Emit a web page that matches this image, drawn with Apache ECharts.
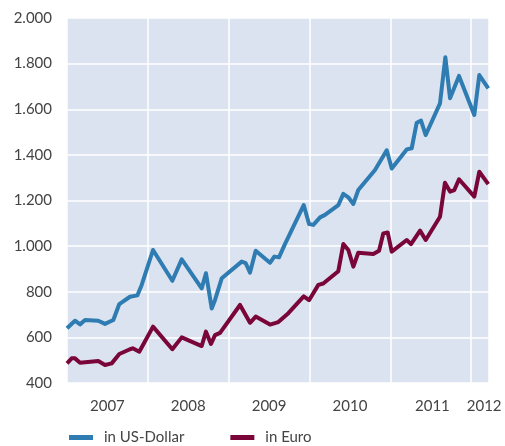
<!DOCTYPE html>
<html>
<head>
<meta charset="utf-8">
<script src="https://cdn.jsdelivr.net/npm/echarts@6/dist/echarts.min.js"></script>
<style>html,body{margin:0;padding:0;background:#fff}#c{width:505px;height:446px}</style>
</head>
<body>
<div id="c"></div>
<script>
// time in decimal years
const usdTimes = [2007.0,2007.099,2007.161,2007.223,2007.387,2007.470,2007.573,2007.647,2007.779,2007.870,2007.924,2008.064,2008.303,2008.419,2008.666,2008.719,2008.790,2008.831,2008.914,2009.161,2009.211,2009.264,2009.334,2009.511,2009.564,2009.622,2009.696,2009.928,2009.994,2010.047,2010.130,2010.191,2010.356,2010.418,2010.480,2010.542,2010.603,2010.810,2010.955,2011.017,2011.202,2011.264,2011.326,2011.379,2011.437,2011.614,2011.680,2011.738,2011.849,2012.038,2012.100,2012.211];
const usdValues = [640,673,657,676,673,659,676,746,778,784,830,983,848,942,815,881,727,764,859,932,925,884,980,927,954,951,1009,1180,1097,1093,1126,1137,1180,1229,1214,1185,1246,1334,1420,1340,1424,1429,1541,1550,1487,1626,1828,1648,1746,1575,1750,1692];
const eurTimes = [2007.0,2007.058,2007.099,2007.161,2007.387,2007.470,2007.553,2007.647,2007.779,2007.813,2007.894,2007.952,2008.064,2008.303,2008.419,2008.666,2008.719,2008.781,2008.831,2008.893,2009.140,2009.264,2009.334,2009.511,2009.614,2009.738,2009.928,2009.994,2010.109,2010.170,2010.356,2010.418,2010.480,2010.542,2010.603,2010.789,2010.860,2010.913,2010.967,2011.017,2011.202,2011.255,2011.367,2011.437,2011.614,2011.675,2011.738,2011.791,2011.849,2012.038,2012.100,2012.211];
const eurValues = [486,508,508,489,496,479,486,527,548,552,537,574,647,548,600,562,625,571,610,620,742,664,691,656,667,706,780,763,830,836,890,1009,983,910,971,966,980,1056,1060,976,1027,1009,1068,1027,1129,1278,1239,1246,1293,1217,1326,1272];
const yearLabelPositions = [2007.5,2008.5,2009.5,2010.5,2011.52,2012.16];
const seriesNames = ['in US-Dollar','in Euro'];

const zip = (a,b) => a.map((t,i)=>[t,b[i]]);
const fmt = v => { const s = String(Math.round(v)); return s.length>3 ? s.slice(0,-3)+'.'+s.slice(-3) : s; };
const font = 'Lato, "Open Sans", sans-serif';

const chart = echarts.init(document.getElementById('c'), null, {renderer:'canvas'});
chart.setOption({
  animation:false,
  backgroundColor:'#ffffff',
  grid:{left:67, right:16, top:18, bottom:63, show:true, backgroundColor:'#dae3ef', borderWidth:0, containLabel:false},
  legend:{
    left:64, top:425, itemWidth:24, itemHeight:5, itemGap:46, icon:'rect',
    textStyle:{fontFamily:font, fontSize:15, color:'#444', padding:[0,0,0,6]},
    data:seriesNames
  },
  xAxis:{
    type:'value', min:2007, max:2012.22, interval:1,
    axisLine:{show:false}, axisTick:{show:false},
    splitLine:{show:true, lineStyle:{color:'#ffffff', width:1.5}},
    axisLabel:{customValues:yearLabelPositions, formatter:v=>String(Math.floor(v)), margin:16, fontFamily:font, fontSize:15, color:'#444'}
  },
  yAxis:{
    type:'value', min:400, max:2000, interval:200,
    axisLine:{show:false}, axisTick:{show:false},
    splitLine:{show:true, lineStyle:{color:'#ffffff', width:1.5}},
    axisLabel:{formatter:fmt, margin:15, fontFamily:font, fontSize:15, color:'#444'}
  },
  series:[
    {name:seriesNames[0], type:'line', data:zip(usdTimes,usdValues), showSymbol:false, symbol:'none', color:'#2e7cb1', lineStyle:{width:4, color:'#2e7cb1', join:'round'}},
    {name:seriesNames[1], type:'line', data:zip(eurTimes,eurValues), showSymbol:false, symbol:'none', color:'#7a0539', lineStyle:{width:4, color:'#7a0539', join:'round'}}
  ]
});
</script>
</body>
</html>
